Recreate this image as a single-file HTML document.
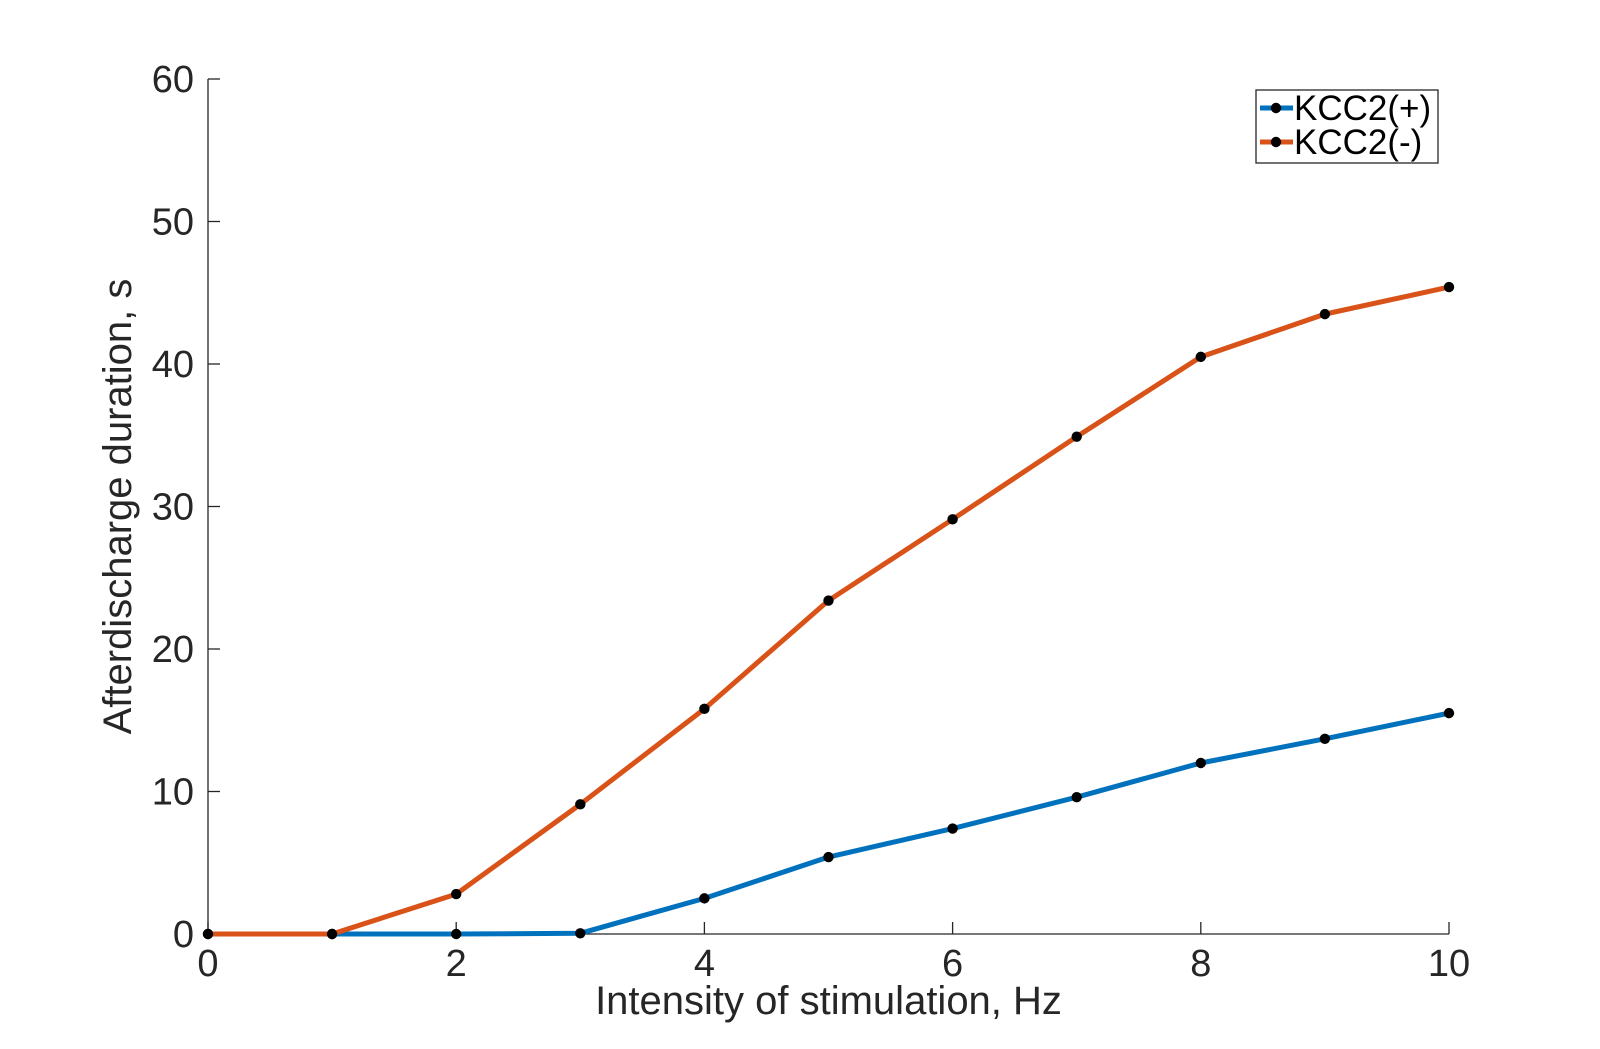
<!DOCTYPE html>
<html><head><meta charset="utf-8"><style>
html,body{margin:0;padding:0;background:#fff;}
svg{display:block;font-family:"Liberation Sans",sans-serif;}
</style></head><body>
<svg id="chart" width="1600" height="1049" viewBox="0 0 1600 1049"></svg>
<script>
const xValues=[0,1,2,3,4,5,6,7,8,9,10];
const kccPlus=[0,0,0,0.05,2.5,5.4,7.4,9.6,12,13.7,15.5];
const kccMinus=[0,0,2.8,9.1,15.8,23.4,29.1,34.9,40.5,43.5,45.4];
const xTicks=[0,2,4,6,8,10];
const yTicks=[0,10,20,30,40,50,60];
const seriesNames=["KCC2(+)","KCC2(-)"];
const L=208,R=1449,T=79,B=934;
const xs=v=>L+(v-0)/(10-0)*(R-L);
const ys=v=>B-(v-0)/(60-0)*(B-T);
const svg=document.getElementById('chart');
const NS='http://www.w3.org/2000/svg';
function mk(tag,attrs,parent){const e=document.createElementNS(NS,tag);for(const k in attrs)e.setAttribute(k,attrs[k]);(parent||svg).appendChild(e);return e;}
let ax=mk('line',{x1:L,y1:B,x2:R,y2:B,stroke:'#262626','stroke-width':1.3});


let ay=mk('line',{x1:L,y1:T,x2:L,y2:B,stroke:'#262626','stroke-width':1.3});


xTicks.forEach(v=>{
  let t=mk('line',{x1:xs(v),y1:B,x2:xs(v),y2:B-12,stroke:'#262626','stroke-width':1.3});
  
  
  let tx=mk('text',{x:xs(v),y:B+42,'text-anchor':'middle','font-size':38,fill:'#262626'});
  tx.textContent=v;
  
  
});
yTicks.forEach(v=>{
  let t=mk('line',{x1:L,y1:ys(v),x2:L+12,y2:ys(v),stroke:'#262626','stroke-width':1.3});
  
  
  let tx=mk('text',{x:L-14,y:ys(v)+13,'text-anchor':'end','font-size':38,fill:'#262626'});
  tx.textContent=v;
  
  
});
let xl=mk('text',{x:(L+R)/2,y:1014,'text-anchor':'middle','font-size':40,fill:'#262626'});
xl.textContent='Intensity of stimulation, Hz';


let yl=mk('text',{x:0,y:0,'text-anchor':'middle','font-size':40,fill:'#262626',transform:`translate(131,${(T+B)/2}) rotate(-90)`});
yl.textContent='Afterdischarge duration, s';


const colors=['#0072BD','#D95319'];
[kccPlus,kccMinus].forEach((arr,i)=>{
  let p=mk('polyline',{points:xValues.map((x,j)=>xs(x)+','+ys(arr[j])).join(' '),fill:'none',stroke:colors[i],'stroke-width':5,'stroke-linejoin':'round'});
  
  
  xValues.forEach((x,j)=>{
    let c=mk('circle',{cx:xs(x),cy:ys(arr[j]),r:5.2,fill:'#000'});
    
    
  });
});
let lg=mk('g',{});


mk('rect',{x:1256,y:90,width:182,height:73,fill:'#fff',stroke:'#262626','stroke-width':1.3},lg);
seriesNames.forEach((n,i)=>{
  const y=108+i*34;
  let g=mk('g',{},lg);
  
  
  mk('line',{x1:1260,y1:y,x2:1293,y2:y,stroke:colors[i],'stroke-width':5},g);
  mk('circle',{cx:1276,cy:y,r:5.2,fill:'#000'},g);
  let t=mk('text',{x:1294,y:y+12,'font-size':35,fill:'#000'},g);
  t.textContent=n;
});
</script>
</body></html>
